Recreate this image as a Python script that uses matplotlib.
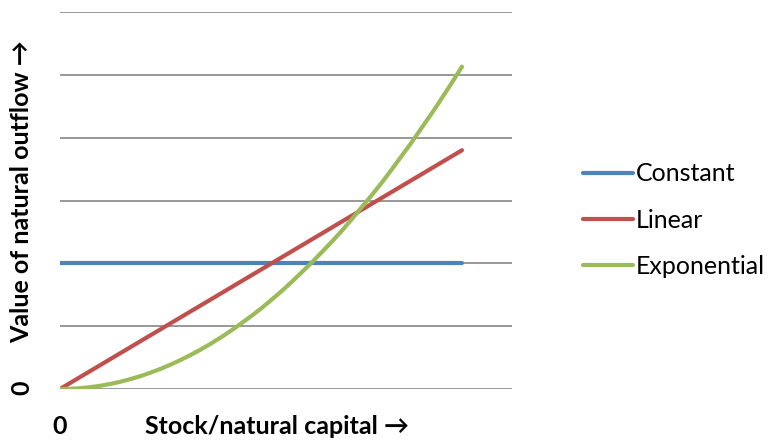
import matplotlib.pyplot as plt

plt.rcParams['font.family'] = ['Lato', 'DejaVu Sans']

# stock (fraction of max shown) and natural outflow values
stock = [0.0, 0.025, 0.05, 0.075, 0.1, 0.125, 0.15, 0.175, 0.2, 0.225, 0.25,
         0.275, 0.3, 0.325, 0.35, 0.375, 0.4, 0.425, 0.45, 0.475, 0.5,
         0.525, 0.55, 0.575, 0.6, 0.625, 0.65, 0.675, 0.7, 0.725, 0.75,
         0.775, 0.8, 0.825, 0.85, 0.875, 0.9, 0.925, 0.95, 0.975, 1.0]
constant = [2.0] * len(stock)
linear_x = [0.0, 1.0]
linear_y = [0.0, 3.8]
exponential = [0.0, 0.003, 0.013, 0.029, 0.051, 0.08, 0.115, 0.157, 0.205, 0.26, 0.32,
               0.388, 0.462, 0.542, 0.628, 0.721, 0.82, 0.927, 1.04, 1.157, 1.28,
               1.414, 1.55, 1.696, 1.85, 2.004, 2.17, 2.337, 2.51, 2.696, 2.89,
               3.081, 3.28, 3.492, 3.71, 3.928, 4.16, 4.389, 4.63, 4.877, 5.13]

fig = plt.figure(figsize=(7.69, 4.41), dpi=100)
ax = fig.add_axes([60 / 769, 1 - 389 / 441, 452 / 769, 377 / 441])

# gridlines
for v in range(0, 7):
    ax.axhline(v, color='#868686', lw=1.2, zorder=1)

ax.plot(stock, constant, color='#4F81BD', lw=3, label='Constant', zorder=3,
        solid_capstyle='round')
ax.plot(linear_x, linear_y, color='#C0504D', lw=3, label='Linear', zorder=3,
        solid_capstyle='round')
ax.plot(stock, exponential, color='#9BBB59', lw=3, label='Exponential', zorder=3,
        solid_capstyle='round')

ax.set_xlim(0, 452 / 402)
ax.set_ylim(0, 6)
ax.set_xticks([])
ax.set_yticks([])
for s in ax.spines.values():
    s.set_visible(False)

# axis texts
fig.text(60 / 769, 1 - 427 / 441, '0', ha='center', va='center',
         fontsize=18, fontweight='bold')
fig.text(277 / 769, 1 - 427 / 441, 'Stock/natural capital \u2192', ha='center', va='center',
         fontsize=18, fontweight='bold')
fig.text(22 / 769, 1 - 388 / 441, '0', ha='center', va='center', rotation=90,
         fontsize=18, fontweight='bold')
fig.text(22 / 769, 1 - 192 / 441, 'Value of natural outflow \u2192', ha='center', va='center',
         rotation=90, fontsize=18, fontweight='bold')

fig.legend(loc='center left', bbox_to_anchor=(583 / 769, 1 - 220 / 441), frameon=False,
           fontsize=18, handlelength=2.0, handletextpad=0.1, labelspacing=0.93,
           borderpad=0.0, borderaxespad=0.0)

fig.savefig('out.png', dpi=100)
